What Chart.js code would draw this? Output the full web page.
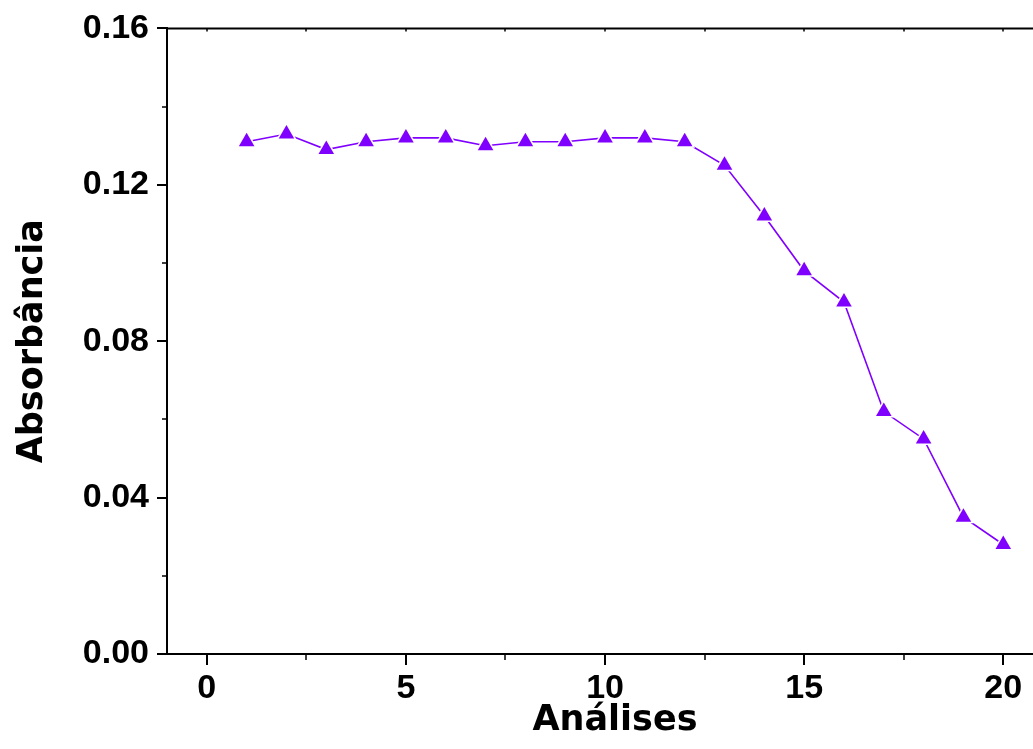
<!DOCTYPE html>
<html>
<head>
<meta charset="utf-8">
<script src="https://cdn.jsdelivr.net/npm/chart.js@4"></script>
<style>
    html, body { margin: 0; padding: 0; background: #fff; overflow: hidden; }
    #wrap { position: absolute; left: 0; top: 0; width: 1080px; height: 749px; }
</style>
</head>
<body>
<div id="wrap"><canvas id="absChart" width="1080" height="749"></canvas></div>
<script>
// dados
const analises = [1, 2, 3, 4, 5, 6, 7, 8, 9, 10, 11, 12, 13, 14, 15, 16, 17, 18, 19, 20];
const absorbancia = [0.131, 0.133, 0.129, 0.131, 0.132, 0.132, 0.130, 0.131, 0.131, 0.132,
                     0.132, 0.131, 0.125, 0.112, 0.098, 0.090, 0.062, 0.055, 0.035, 0.028];
const xTicks = [0, 5, 10, 15, 20];
const xMinorTicks = [2.5, 7.5, 12.5, 17.5];
const yTicks = [0.00, 0.04, 0.08, 0.12, 0.16];
const yMinorTicks = [0.02, 0.06, 0.10, 0.14];

const COR = '#8000ff';
const points = analises.map((x, i) => ({ x: x, y: absorbancia[i] }));

// eixos no estilo Origin: topo, ticks menores
const eixosPlugin = {
    id: 'eixos',
    afterDraw(chart) {
        const ctx = chart.ctx;
        const a = chart.chartArea;
        const xs = chart.scales.x, ys = chart.scales.y;
        ctx.save();
        ctx.strokeStyle = '#000';
        ctx.lineWidth = 2;
        ctx.beginPath();
        ctx.moveTo(a.left, a.top);
        ctx.lineTo(a.right, a.top);
        ctx.stroke();
        ctx.lineWidth = 1.5;
        ctx.beginPath();
        xMinorTicks.forEach(v => {
            const px = Math.round(xs.getPixelForValue(v));
            ctx.moveTo(px, a.bottom);
            ctx.lineTo(px, a.bottom + 6);
        });
        yMinorTicks.forEach(v => {
            const py = Math.round(ys.getPixelForValue(v));
            ctx.moveTo(a.left, py);
            ctx.lineTo(a.left - 5, py);
        });
        xTicks.concat(xMinorTicks).forEach(v => {
            const px = Math.round(xs.getPixelForValue(v));
            ctx.moveTo(px, a.top);
            ctx.lineTo(px, a.top + 3);
        });
        ctx.stroke();
        ctx.restore();
    }
};

const tickFont = { family: '"Liberation Sans", Arial, sans-serif', size: 34, weight: 'bold' };
const titleFont = { family: '"Comic Sans MS", "DejaVu Sans", sans-serif', size: 35, weight: 'bold' };

new Chart(document.getElementById('absChart'), {
    type: 'scatter',
    data: {
        datasets: [
            {
                data: points,
                showLine: true,
                borderColor: COR,
                borderWidth: 1.6,
                pointRadius: 0,
                order: 2
            },
            {
                data: points,
                pointStyle: 'triangle',
                pointRadius: 12,
                backgroundColor: '#fff',
                borderColor: '#fff',
                borderWidth: 0,
                order: 1
            },
            {
                data: points,
                pointStyle: 'triangle',
                pointRadius: 9,
                backgroundColor: COR,
                borderColor: COR,
                borderWidth: 0,
                order: 0
            }
        ]
    },
    options: {
        responsive: false,
        animation: false,
        layout: { padding: { top: 26, right: 17, left: 0, bottom: 0 } },
        plugins: {
            legend: { display: false },
            tooltip: { enabled: false }
        },
        scales: {
            x: {
                type: 'linear',
                min: -1,
                max: 21.5,
                afterBuildTicks: axis => { axis.ticks = xTicks.map(v => ({ value: v })); },
                afterFit: axis => { axis.height = 95; },
                ticks: { color: '#000', font: tickFont, padding: 3, callback: v => v },
                grid: { drawOnChartArea: false, tickLength: 11, color: '#000', lineWidth: 2 },
                border: { display: true, color: '#000', width: 2 },
                title: { display: true, text: 'Análises', color: '#000', font: titleFont, padding: { top: 0, bottom: 7 } }
            },
            y: {
                type: 'linear',
                min: 0,
                max: 0.16,
                afterBuildTicks: axis => { axis.ticks = yTicks.map(v => ({ value: v })); },
                afterFit: axis => { axis.width = 167; },
                ticks: { color: '#000', font: tickFont, padding: 8, callback: v => v.toFixed(2) },
                grid: { drawOnChartArea: false, tickLength: 10, color: '#000', lineWidth: 2 },
                border: { display: true, color: '#000', width: 2 },
                title: { display: true, text: 'Absorbância', color: '#000', font: titleFont, padding: { top: 12, bottom: 0 } }
            }
        }
    },
    plugins: [eixosPlugin]
});
</script>
</body>
</html>
